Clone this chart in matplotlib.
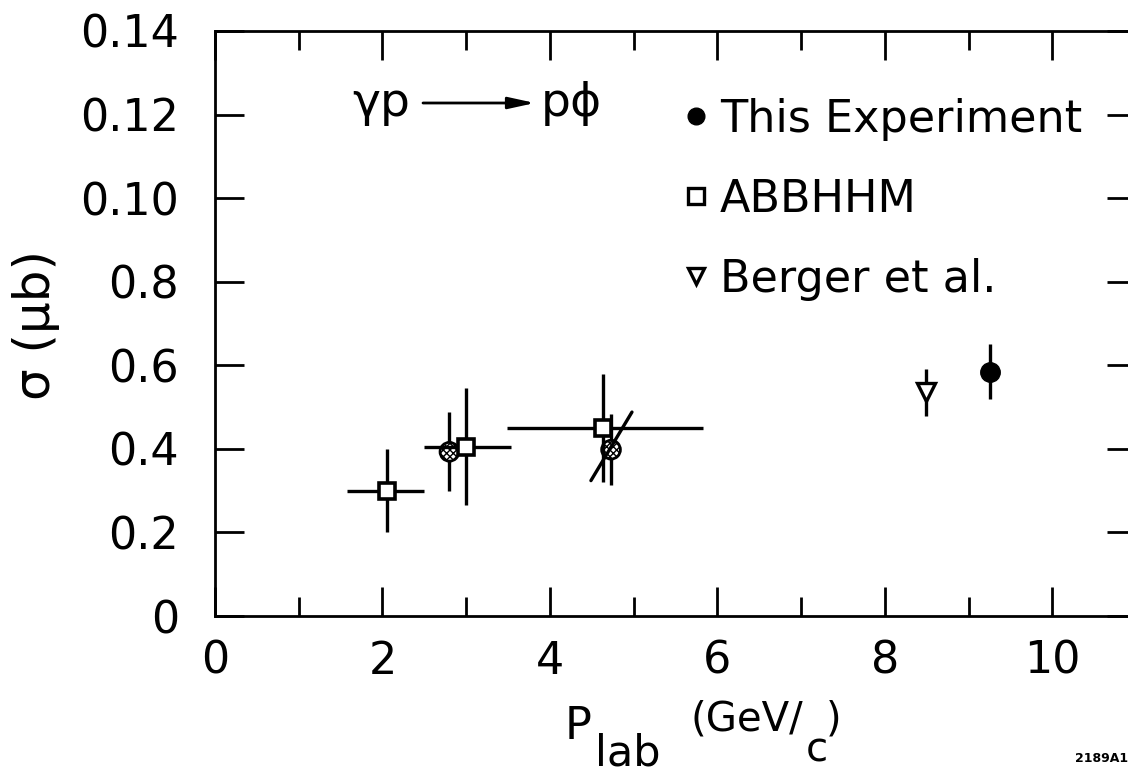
import matplotlib
matplotlib.use("Agg")
import matplotlib.pyplot as plt
from matplotlib.lines import Line2D
from matplotlib.ticker import FixedLocator

plt.rcParams['font.family'] = ['DejaVu Sans']

# ---- data -------------------------------------------------------------
# This experiment (phi photoproduction cross section)
exp_x = [2.80, 4.73, 9.26]
exp_y = [0.393, 0.398, 0.585]
exp_yerr = [0.095, 0.085, 0.065]

# ABBHHM bubble chamber points, with energy bins
abb_x = [2.06, 3.00, 4.64]
abb_y = [0.300, 0.405, 0.450]
abb_yerr = [0.100, 0.140, 0.130]
abb_xlo = [1.58, 2.50, 3.49]
abb_xhi = [2.50, 3.54, 5.83]

# Berger et al.
ber_x = [8.49]
ber_y = [0.535]
ber_yerr = [0.056]

# slanted bar through the 4.7 GeV point
slant_x = [4.49, 4.98]
slant_y = [0.324, 0.488]

xtick_major = [0, 2, 4, 6, 8, 10]
xtick_minor = [1, 3, 5, 7, 9]
xtick_labels = ['0', '2', '4', '6', '8', '10']
ytick_vals = [0, 0.2, 0.4, 0.6, 0.8, 1.0, 1.2, 1.4]
ytick_labels = ['0', '0.2', '0.4', '0.6', '0.8', '0.10', '0.12', '0.14']

legend_labels = ['This Experiment', 'ABBHHM', 'Berger et al.']

# ---- figure -----------------------------------------------------------
W, H = 1128, 777
fig = plt.figure(figsize=(W / 100, H / 100), dpi=100)


def px(x, y):
    """pixel position (from top-left) -> figure fraction"""
    return x / W, 1 - y / H


left, right, top, bottom = 215, 1136, 31, 616
ax = fig.add_axes([left / W, 1 - bottom / H, (right - left) / W, (bottom - top) / H])
ax.set_xlim(0, 11.0)
ax.set_ylim(0, 1.4)

lw_axis = 2.0
for s in ax.spines.values():
    s.set_linewidth(lw_axis)

ax.xaxis.set_major_locator(FixedLocator(xtick_major))
ax.xaxis.set_minor_locator(FixedLocator(xtick_minor))
ax.set_xticklabels(xtick_labels)
ax.yaxis.set_major_locator(FixedLocator(ytick_vals))
ax.set_yticklabels(ytick_labels)
ax.tick_params(which='major', direction='in', top=True, right=True,
               length=21, width=2.0, labelsize=32)
ax.tick_params(which='minor', direction='in', top=True, bottom=True,
               length=14, width=2.0)
ax.tick_params(axis='x', which='major', pad=17)
ax.tick_params(axis='y', which='major', pad=26)

ebw = 2.4
# hatched circles partly hidden under the squares
ax.errorbar(exp_x[:2], exp_y[:2], yerr=exp_yerr[:2], fmt='none',
            ecolor='black', elinewidth=ebw, capsize=0, zorder=2)
ax.scatter(exp_x[:2], exp_y[:2], s=13.5 ** 2, facecolor='white',
           edgecolor='black', linewidths=2.0, hatch='xxxxx', zorder=3)
ax.plot(slant_x, slant_y, color='black', lw=ebw, solid_capstyle='round', zorder=4)

# ABBHHM squares with x-bins
abb_xerr = [[c - lo for c, lo in zip(abb_x, abb_xlo)],
            [hi - c for c, hi in zip(abb_x, abb_xhi)]]
ax.errorbar(abb_x, abb_y, xerr=abb_xerr, yerr=abb_yerr, fmt='s', ms=11.5,
            mfc='white', mec='black', mew=2.6, ecolor='black',
            elinewidth=ebw, capsize=0, zorder=5)

# Berger et al.
ax.errorbar(ber_x, ber_y, yerr=ber_yerr, fmt='v', ms=12.5, mfc='white',
            mec='black', mew=2.4, ecolor='black', elinewidth=ebw,
            capsize=0, zorder=5)

# This experiment, high energy point
ax.errorbar(exp_x[2:], exp_y[2:], yerr=exp_yerr[2:], fmt='o', ms=14,
            mfc='black', mec='black', ecolor='black', elinewidth=ebw,
            capsize=0, zorder=5)

# legend
handles = [
    Line2D([], [], ls='none', marker='o', ms=12, mfc='black', mec='black'),
    Line2D([], [], ls='none', marker='s', ms=11, mfc='white', mec='black', mew=2.4),
    Line2D([], [], ls='none', marker='v', ms=11, mfc='white', mec='black', mew=2.4),
]
ax.legend(handles, legend_labels, loc='upper left',
          bbox_to_anchor=px(680, 98), bbox_transform=fig.transFigure,
          frameon=False, fontsize=32, handlelength=0.7, handletextpad=0.2,
          labelspacing=0.83, borderpad=0, borderaxespad=0)

# reaction label
fig.text(*px(352, 116), 'γp', fontsize=34, va='baseline', ha='left')
fig.text(*px(541, 116), 'pϕ', fontsize=34, va='baseline', ha='left')
ax.annotate('', xy=px(535, 103), xytext=px(423, 103),
            xycoords='figure fraction', textcoords='figure fraction',
            arrowprops=dict(arrowstyle='-|>,head_length=1.6,head_width=0.35',
                            color='black', lw=2.0, shrinkA=0, shrinkB=0))

# axis labels
fig.text(*px(36, 325), 'σ (μb)', fontsize=36, rotation=90,
         ha='center', va='center')
fig.text(*px(565, 739), 'P', fontsize=32, ha='left', va='baseline')
fig.text(*px(595, 766), 'lab', fontsize=31, ha='left', va='baseline')
fig.text(*px(690, 731), '(GeV/', fontsize=29, ha='left', va='baseline')
fig.text(*px(806, 762), 'c', fontsize=29, ha='left', va='baseline')
fig.text(*px(826, 731), ')', fontsize=29, ha='left', va='baseline')
fig.text(*px(1128, 762), '2189A1', fontsize=9, fontweight='bold',
         ha='right', va='baseline')

fig.savefig('out.png', dpi=100)
